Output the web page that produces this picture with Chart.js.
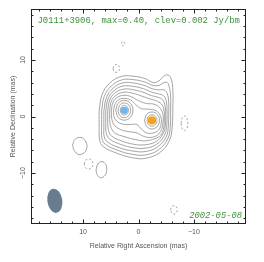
<!DOCTYPE html>
<html lang="en">
<head>
<meta charset="UTF-8">
<title>J0111+3906</title>
<script src="https://cdn.jsdelivr.net/npm/chart.js"></script>
<style>
  body { margin: 0; background: #fff; }
  canvas { display: block; }
</style>
</head>
<body>
<canvas id="map" width="264" height="262"></canvas>
<script>
// contour points in mas, [relative RA, relative Dec]
const contour1 = [[7.1,1.0],[6.6,3.8],[5.2,5.9],[3.0,7.1],[0.8,7.1],[-1.2,6.7],[-2.7,6.0],[-3.7,6.3],[-4.5,7.1],[-5.3,7.35],[-5.9,6.6],[-6.2,4.6],[-6.2,1.5],[-6.1,-1.5],[-5.6,-4.2],[-3.8,-6.4],[-1.2,-7.4],[1.0,-7.3],[3.6,-6.6],[6.4,-5.3],[7.0,-4.2],[7.1,-2.0],[7.1,1.0]];
const contour2 = [[6.65,1.0],[6.2,3.5],[4.9,5.4],[2.9,6.5],[0.8,6.5],[-1.1,6.1],[-2.6,5.5],[-3.7,5.5],[-4.6,6.0],[-5.2,6.0],[-5.6,5.0],[-5.8,3.5],[-5.8,1.0],[-5.75,-1.5],[-5.3,-3.9],[-3.6,-5.9],[-1.2,-6.8],[1.0,-6.7],[3.4,-6.1],[6.0,-4.9],[6.6,-3.8],[6.65,-2.0],[6.65,1.0]];
const contour3 = [[6.25,1.0],[5.8,3.3],[4.6,5.0],[2.8,5.95],[0.8,5.9],[-1.0,5.5],[-2.5,4.9],[-3.6,4.7],[-4.6,4.7],[-5.2,4.0],[-5.45,2.5],[-5.45,0.5],[-5.4,-1.5],[-5.0,-3.6],[-3.4,-5.4],[-1.2,-6.2],[1.0,-6.1],[3.2,-5.6],[5.6,-4.5],[6.2,-3.5],[6.25,-2.0],[6.25,1.0]];
const contour4 = [[5.9,1.0],[5.5,3.1],[4.4,4.6],[2.7,5.4],[0.8,5.3],[-0.9,4.9],[-2.4,4.3],[-3.6,4.0],[-4.5,3.7],[-5.0,2.8],[-5.15,1.0],[-5.1,-1.5],[-4.7,-3.3],[-3.3,-4.9],[-1.2,-5.6],[1.0,-5.5],[3.0,-5.0],[5.2,-4.0],[5.8,-3.0],[5.9,-1.5],[5.9,1.0]];
const contour5 = [[5.55,1.0],[5.2,2.9],[4.2,4.2],[2.6,4.85],[0.8,4.7],[-0.8,4.3],[-2.3,3.7],[-3.5,3.4],[-4.4,2.9],[-4.8,1.8],[-4.9,0.0],[-4.8,-1.8],[-4.4,-3.1],[-3.2,-4.4],[-1.2,-5.0],[0.9,-4.9],[2.8,-4.4],[4.8,-3.5],[5.4,-2.5],[5.55,-1.0],[5.55,1.0]];
const contour6 = [[5.2,1.0],[4.9,2.7],[4.0,3.8],[2.6,4.3],[1.0,4.1],[-0.6,3.6],[-2.1,3.1],[-3.4,2.7],[-4.3,2.0],[-4.65,0.8],[-4.65,-0.8],[-4.5,-2.2],[-4.0,-3.3],[-3.0,-3.9],[-1.3,-4.3],[0.5,-4.1],[2.4,-3.6],[4.3,-2.9],[5.0,-1.8],[5.2,-0.5],[5.2,1.0]];
const contour7 = [[4.9,1.0],[4.6,2.5],[3.8,3.4],[2.6,3.75],[1.3,3.5],[0.0,2.8],[-1.4,2.3],[-2.7,2.2],[-3.8,1.6],[-4.4,0.4],[-4.4,-1.2],[-4.1,-2.4],[-3.4,-3.3],[-2.2,-3.7],[-0.9,-3.5],[0.3,-2.9],[1.6,-2.7],[3.0,-2.4],[4.3,-1.6],[4.8,-0.5],[4.9,1.0]];
const contour8 = [[4.5,1.0],[4.2,2.3],[3.5,3.0],[2.5,3.2],[1.4,2.9],[0.5,2.1],[-0.5,1.4],[-1.8,1.3],[-3.2,1.0],[-4.0,0.0],[-4.1,-1.2],[-3.7,-2.3],[-2.7,-2.9],[-1.5,-2.9],[-0.5,-2.2],[0.3,-1.4],[1.2,-1.4],[2.5,-1.4],[3.7,-1.0],[4.4,-0.1],[4.5,1.0]];
const blueRing1 = [[4.11,1.1],[3.66,2.34],[2.56,2.85],[1.46,2.34],[1.01,1.1],[1.46,-0.14],[2.56,-0.65],[3.66,-0.14],[4.11,1.1]];
const blueRing2 = [[3.71,1.1],[3.37,2.02],[2.56,2.4],[1.75,2.02],[1.41,1.1],[1.75,0.18],[2.56,-0.2],[3.37,0.18],[3.71,1.1]];
const blueRing3 = [[3.31,1.1],[3.09,1.7],[2.56,1.95],[2.03,1.7],[1.81,1.1],[2.03,0.5],[2.56,0.25],[3.09,0.5],[3.31,1.1]];
const orangeRing1 = [[-1.08,-0.7],[-1.48,0.36],[-2.43,0.8],[-3.38,0.36],[-3.78,-0.7],[-3.38,-1.76],[-2.43,-2.2],[-1.48,-1.76],[-1.08,-0.7]];
const orangeRing2 = [[-1.53,-0.7],[-1.79,0.01],[-2.43,0.3],[-3.07,0.01],[-3.33,-0.7],[-3.07,-1.41],[-2.43,-1.7],[-1.79,-1.41],[-1.53,-0.7]];
const islandA = [[11.9,-5.0],[11.4,-4.0],[10.4,-3.7],[9.6,-4.3],[9.3,-5.4],[9.8,-6.4],[10.8,-6.7],[11.6,-6.0],[11.9,-5.0]];
const islandB = [[7.66,-9.4],[7.35,-8.4],[6.6,-7.96],[5.9,-8.5],[5.74,-9.5],[6.05,-10.4],[6.8,-10.84],[7.45,-10.3],[7.66,-9.4]];
// negative (-clev) contours
const negA = [[3.1,12.9],[2.8,13.3],[2.5,12.9],[2.8,12.5],[3.1,12.9]];
const negB = [[4.6,8.5],[4.42,9.0],[4.0,9.2],[3.58,9.0],[3.4,8.5],[3.58,8.0],[4.0,7.8],[4.42,8.0],[4.6,8.5]];
const negC = [[-7.7,-1.2],[-7.88,-0.28],[-8.3,0.1],[-8.72,-0.28],[-8.9,-1.2],[-8.72,-2.12],[-8.3,-2.5],[-7.88,-2.12],[-7.7,-1.2]];
const negD = [[9.8,-8.4],[9.57,-7.76],[9.0,-7.5],[8.43,-7.76],[8.2,-8.4],[8.43,-9.04],[9.0,-9.3],[9.57,-9.04],[9.8,-8.4]];
const negE = [[-5.8,-16.5],[-5.98,-15.97],[-6.4,-15.75],[-6.82,-15.97],[-7.0,-16.5],[-6.82,-17.03],[-6.4,-17.25],[-5.98,-17.03],[-5.8,-16.5]];

// model components
const compX = [2.56, -2.43];
const compY = [1.1, -0.7];

// restoring beam (mas, deg)
const beamX = 15.1, beamY = -14.9;
const beamMaj = 4.3, beamMin = 2.7, beamPA = -8;

const tickValues = [-18,-16,-14,-12,-10,-8,-6,-4,-2,0,2,4,6,8,10,12,14,16,18];
const labelValues = [-10, 0, 10];

const titleText = 'J0111+3906, max=0.40, clev=0.002 Jy/bm';
const dateText = '2002-05-08';

const toXY = arr => arr.map(p => ({ x: p[0], y: p[1] }));
const solid = [contour1, contour2, contour3, contour4, contour5, contour6, contour7, contour8,
  blueRing1, blueRing2, blueRing3, orangeRing1, orangeRing2, islandA, islandB];
const dashed = [negA, negB, negC, negD, negE];

const datasets = [];
solid.forEach(c => datasets.push({
  data: toXY(c), showLine: true, pointRadius: 0, borderColor: '#8d8d8d',
  borderWidth: 0.8, tension: 0.4, fill: false
}));
dashed.forEach(c => datasets.push({
  data: toXY(c), showLine: true, pointRadius: 0, borderColor: '#8d8d8d',
  borderWidth: 0.8, borderDash: [2, 2], tension: 0.4, fill: false
}));
datasets.push({
  data: [{ x: compX[0], y: compY[0] }], pointRadius: 3.6, pointBackgroundColor: '#6cb8f2',
  pointBorderWidth: 0, showLine: false
});
datasets.push({
  data: [{ x: compX[1], y: compY[1] }], pointRadius: 4.1, pointBackgroundColor: '#f7a11a',
  pointBorderWidth: 0, showLine: false
});

const mapDecor = {
  id: 'mapDecor',
  beforeDatasetsDraw(chart) {
    const { ctx, scales: { x, y } } = chart;
    // beam
    const cx = x.getPixelForValue(beamX), cy = y.getPixelForValue(beamY);
    const rx = Math.abs(x.getPixelForValue(beamMin / 2) - x.getPixelForValue(0));
    const ry = Math.abs(y.getPixelForValue(beamMaj / 2) - y.getPixelForValue(0));
    ctx.save();
    ctx.fillStyle = '#687c90';
    ctx.beginPath();
    ctx.ellipse(cx, cy, rx, ry, beamPA * Math.PI / 180, 0, 2 * Math.PI);
    ctx.fill();
    ctx.restore();
  },
  afterDraw(chart) {
    const { ctx, chartArea: a, scales: { x, y } } = chart;
    ctx.save();
    ctx.strokeStyle = '#222';
    ctx.lineWidth = 1;
    ctx.strokeRect(a.left + 0.5, a.top + 0.5, a.width - 1, a.height - 1);
    ctx.beginPath();
    tickValues.forEach(v => {
      const len = v % 10 === 0 ? 4.5 : 2.5;
      const px = Math.round(x.getPixelForValue(v)) + 0.5;
      ctx.moveTo(px, a.bottom); ctx.lineTo(px, a.bottom - len);
      ctx.moveTo(px, a.top); ctx.lineTo(px, a.top + len);
      const py = Math.round(y.getPixelForValue(v)) + 0.5;
      ctx.moveTo(a.left, py); ctx.lineTo(a.left + len, py);
      ctx.moveTo(a.right, py); ctx.lineTo(a.right - len, py);
    });
    ctx.stroke();
    // labels inside the map
    ctx.fillStyle = '#3f8f3f';
    ctx.font = '8.9px "Liberation Mono"';
    ctx.textAlign = 'left';
    ctx.textBaseline = 'alphabetic';
    ctx.fillText(titleText, a.left + 6.5, a.top + 14);
    ctx.font = 'italic 8.8px "Liberation Mono"';
    ctx.textAlign = 'right';
    ctx.fillText(dateText, a.right - 4, a.bottom - 6);
    ctx.restore();
  }
};

const axisFont = { family: 'Liberation Sans', size: 7 };
const labelTick = v => labelValues.includes(v) ? (v < 0 ? '\u2212' + Math.abs(v) : String(v)) : '';

new Chart(document.getElementById('map'), {
  type: 'scatter',
  data: { datasets },
  plugins: [mapDecor],
  options: {
    responsive: false,
    animation: false,
    devicePixelRatio: 1,
    layout: { padding: { top: 9, right: 18, left: 0, bottom: 0 } },
    plugins: { legend: { display: false }, tooltip: { enabled: false } },
    scales: {
      x: {
        type: 'linear', reverse: true, min: -19.4, max: 19.4,
        grid: { display: false, drawTicks: false }, border: { display: false },
        afterBuildTicks: s => { s.ticks = tickValues.map(v => ({ value: v })); },
        afterFit: s => { s.height = 38; },
        ticks: { autoSkip: false, maxRotation: 0, padding: 4, color: '#555', font: axisFont, callback: labelTick },
        title: { display: true, text: 'Relative Right Ascension (mas)', color: '#555', font: axisFont, padding: { top: 0, bottom: 12 } }
      },
      y: {
        type: 'linear', min: -19, max: 19,
        grid: { display: false, drawTicks: false }, border: { display: false },
        afterBuildTicks: s => { s.ticks = tickValues.map(v => ({ value: v })); },
        afterFit: s => { s.width = 31; },
        ticks: { autoSkip: false, minRotation: 90, maxRotation: 90, crossAlign: 'center', padding: 2, color: '#555', font: axisFont, callback: labelTick },
        title: { display: true, text: 'Relative Declination (mas)', color: '#555', font: axisFont, padding: { top: 9, bottom: 0 } }
      }
    }
  }
});
</script>
</body>
</html>
